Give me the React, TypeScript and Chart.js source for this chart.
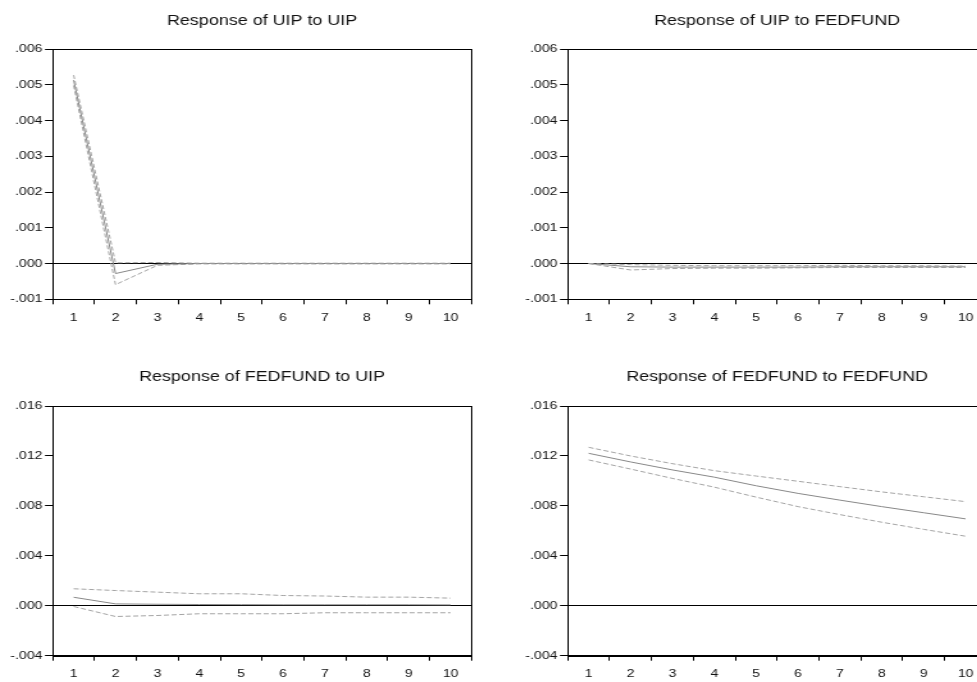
import React, { useEffect, useRef } from 'react';
import { Chart, registerables } from 'chart.js';

Chart.register(...registerables);

// ---------- data ----------
const periods = ['1', '2', '3', '4', '5', '6', '7', '8', '9', '10'];

const uipUipMid = [0.00513, -0.00028, -0.00002, 0.0, 0.0, 0.0, 0.0, 0.0, 0.0, 0.0];
const uipUipUp = [0.00527, 0.00002, 0.00003, 0.00001, 0.00001, 0.00001, 0.00001, 0.00001, 0.00001, 0.00001];
const uipUipLo = [0.00498, -0.00059, -0.00005, -0.00001, -0.00001, -0.00001, -0.00001, -0.00001, -0.00001, -0.00001];

const uipFedMid = [0.0, -0.00009, -0.0001, -0.0001, -0.0001, -0.0001, -0.00009, -0.00009, -0.00009, -0.00009];
const uipFedUp = [0.0, -0.00003, -0.00005, -0.00006, -0.00006, -0.00006, -0.00005, -0.00006, -0.00006, -0.00007];
const uipFedLo = [0.0, -0.00018, -0.00014, -0.00013, -0.00013, -0.00012, -0.00011, -0.00011, -0.00011, -0.00011];

const fedUipMid = [0.00068, 0.00015, 0.00012, 0.0001, 0.00009, 0.00008, 0.00008, 0.00008, 0.00008, 0.00007];
const fedUipUp = [0.00136, 0.00122, 0.00109, 0.00096, 0.00096, 0.00082, 0.00078, 0.00069, 0.00069, 0.00061];
const fedUipLo = [-0.00006, -0.00086, -0.00078, -0.00064, -0.00064, -0.00064, -0.00056, -0.00056, -0.00056, -0.00056];

const fedFedMid = [0.01221, 0.01152, 0.01088, 0.0103, 0.00961, 0.009, 0.00846, 0.00794, 0.00745, 0.00696];
const fedFedUp = [0.01269, 0.012, 0.01138, 0.01082, 0.01039, 0.00997, 0.00954, 0.00912, 0.00873, 0.00834];
const fedFedLo = [0.01168, 0.01095, 0.0102, 0.0095, 0.0087, 0.00794, 0.0073, 0.00669, 0.00612, 0.00557];

const topAxis = { min: -0.001, max: 0.006, step: 0.001 };
const bottomAxis = { min: -0.004, max: 0.016, step: 0.004 };

// ---------- layout ----------
const SX = 1.28; // horizontal stretch of the reference rendering
const LEFT = 52.7 / SX;
const PW = 418.8 / SX;
const NW = 383;
const FONT = "'Liberation Sans', Arial, Helvetica, sans-serif";

const fmt = (v: number) => {
  const s = Math.abs(v) < 1e-12 ? '0.000' : v.toFixed(3);
  return s.replace(/^(-?)0\./, '$1.');
};

const boxPlugin = {
  id: 'box',
  afterDraw(chart: any) {
    const { ctx, chartArea } = chart;
    const l = Math.round(chartArea.left) + 0.5;
    const t = Math.round(chartArea.top) + 0.5;
    const r = Math.round(chartArea.right) + 0.5;
    const b = Math.round(chartArea.bottom) + 0.5;
    ctx.save();
    ctx.strokeStyle = '#000';
    ctx.lineWidth = 1;
    ctx.strokeRect(l, t, r - l, b - t);
    ctx.restore();
  },
};

const panelTitlePlugin = {
  id: 'panelTitle',
  afterDraw(chart: any, _args: any, opts: any) {
    const { ctx, chartArea } = chart;
    ctx.save();
    ctx.fillStyle = '#111';
    ctx.font = `normal 14px ${FONT}`;
    ctx.textAlign = 'center';
    ctx.textBaseline = 'middle';
    ctx.fillText(opts.text, (chartArea.left + chartArea.right) / 2, opts.y);
    ctx.restore();
  },
};

type PanelProps = {
  title: string;
  mid: number[];
  up: number[];
  lo: number[];
  axis: { min: number; max: number; step: number };
  height: number;
  plotTop: number;
  titleY: number;
  xHeight: number;
  left: number;
  top: number;
};

function Panel(p: PanelProps) {
  const ref = useRef<HTMLCanvasElement | null>(null);
  useEffect(() => {
    if (!ref.current) return;
    const band = {
      borderColor: '#a4a4a4',
      borderWidth: 1,
      borderDash: [4, 2],
      pointRadius: 0,
      tension: 0,
      fill: false,
    };
    const chart = new Chart(ref.current, {
      type: 'line',
      data: {
        labels: periods,
        datasets: [
          { ...band, data: p.up },
          { data: p.mid, borderColor: '#888888', borderWidth: 1, pointRadius: 0, tension: 0, fill: false },
          { ...band, data: p.lo },
        ],
      },
      options: {
        responsive: false,
        animation: false,
        devicePixelRatio: 1,
        layout: { padding: { left: 0, top: p.plotTop, bottom: 0, right: NW - LEFT - PW } },
        plugins: {
          legend: { display: false },
          tooltip: { enabled: false },
          title: { display: false },
          panelTitle: { text: p.title, y: p.titleY },
        },
        scales: {
          x: {
            type: 'category',
            offset: true,
            grid: {
              offset: true,
              drawOnChartArea: false,
              drawTicks: true,
              tickLength: 5,
              tickColor: '#000',
              color: '#000',
            },
            border: { display: true, color: '#000' },
            ticks: {
              color: '#111',
              font: { family: FONT, size: 11 },
              padding: 7,
              maxRotation: 0,
              autoSkip: false,
            },
            afterFit: (s: any) => {
              s.height = p.xHeight;
            },
          },
          y: {
            type: 'linear',
            min: p.axis.min,
            max: p.axis.max,
            grid: {
              drawOnChartArea: true,
              drawTicks: true,
              tickLength: 6,
              tickColor: '#000',
              color: (c: any) => (c.tick && Math.abs(c.tick.value) < 1e-9 ? '#000' : 'rgba(0,0,0,0)'),
            },
            border: { display: true, color: '#000' },
            ticks: {
              stepSize: p.axis.step,
              color: '#111',
              font: { family: FONT, size: 11 },
              padding: 2,
              callback: (v: any) => fmt(Number(v)),
            },
            afterFit: (s: any) => {
              s.width = LEFT;
            },
          },
        },
      },
      plugins: [boxPlugin, panelTitlePlugin],
    } as any);
    return () => chart.destroy();
  }, []);
  return (
    <div
      style={{
        position: 'absolute',
        left: p.left,
        top: p.top,
        width: NW,
        height: p.height,
        transform: `scaleX(${SX})`,
        transformOrigin: '0 0',
      }}
    >
      <canvas ref={ref} width={NW} height={p.height} style={{ display: 'block' }} />
    </div>
  );
}

export default function App() {
  const rightX = 514.6;
  return (
    <div
      style={{
        position: 'fixed',
        left: 0,
        top: 0,
        width: 977,
        height: 682,
        overflow: 'hidden',
        background: '#fff',
      }}
    >
      <Panel title="Response of UIP to UIP" mid={uipUipMid} up={uipUipUp} lo={uipUipLo} axis={topAxis}
        height={330} plotTop={49} titleY={20.7} xHeight={30.7} left={0} top={0} />
      <Panel title="Response of UIP to FEDFUND" mid={uipFedMid} up={uipFedUp} lo={uipFedLo} axis={topAxis}
        height={330} plotTop={49} titleY={20.7} xHeight={30.7} left={rightX} top={0} />
      <Panel title="Response of FEDFUND to UIP" mid={fedUipMid} up={fedUipUp} lo={fedUipLo} axis={bottomAxis}
        height={352} plotTop={76} titleY={47.3} xHeight={26.3} left={0} top={330} />
      <Panel title="Response of FEDFUND to FEDFUND" mid={fedFedMid} up={fedFedUp} lo={fedFedLo} axis={bottomAxis}
        height={352} plotTop={76} titleY={47.3} xHeight={26.3} left={rightX} top={330} />
    </div>
  );
}
